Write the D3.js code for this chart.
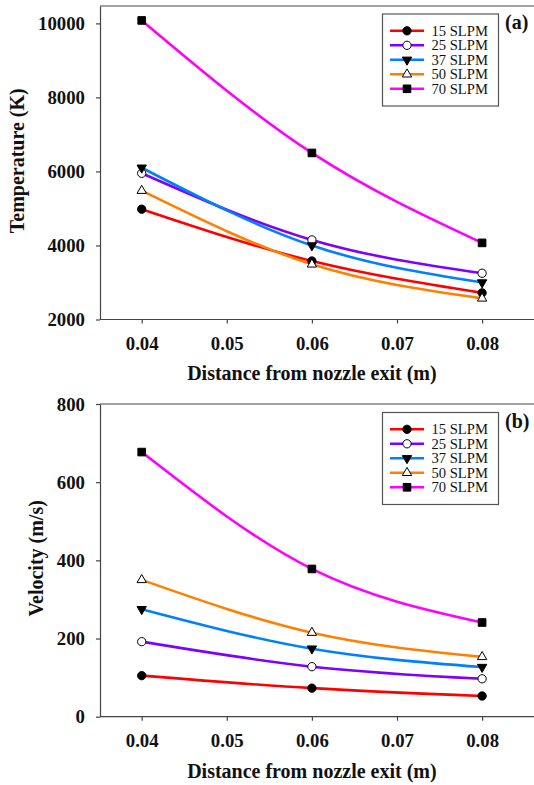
<!DOCTYPE html>
<html>
<head>
<meta charset="utf-8">
<script src="https://cdn.jsdelivr.net/npm/d3@7"></script>
<style>
  html, body { margin: 0; padding: 0; background: #fff; }
  svg { display: block; }
  svg text { font-family: 'Liberation Serif', 'Times New Roman', Times, 'DejaVu Serif', serif !important; fill: #111; }
</style>
</head>
<body>
<svg id="chart" width="534" height="785"></svg>
<script>
// Measurement positions along the jet (m)
const distances = [0.04, 0.06, 0.08];
const seriesNames = ["15 SLPM", "25 SLPM", "37 SLPM", "50 SLPM", "70 SLPM"];
const seriesColors = ["#ff0000", "#8000ff", "#0080ff", "#ff8000", "#ff00ff"];
const seriesSymbols = ["circle", "openCircle", "triangleDown", "openTriangle", "square"];

// Plasma temperature (K)
const temp15 = [4980, 3580, 2720];
const temp25 = [5950, 4150, 3250];
const temp37 = [6100, 4000, 3000];
const temp50 = [5480, 3490, 2570];
const temp70 = [10080, 6500, 4070];

// Plasma velocity (m/s)
const vel15 = [105, 73, 53];
const vel25 = [192, 128, 97];
const vel37 = [275, 174, 127];
const vel50 = [350, 215, 153];
const vel70 = [677, 378, 241];

const xTicks = [0.04, 0.05, 0.06, 0.07, 0.08];
const tempTicks = [2000, 4000, 6000, 8000, 10000];
const velTicks = [0, 200, 400, 600, 800];

const svg = d3.select("#chart");

const x = d3.scaleLinear().domain([0.0351, 0.09]).range([100, 567.2]);

function symbolPath(kind) {
  const gen = d3.symbol();
  if (kind === "circle" || kind === "openCircle") return gen.type(d3.symbolCircle).size(54)();
  if (kind === "square") return gen.type(d3.symbolSquare).size(58)();
  return gen.type(d3.symbolTriangle).size(38)();
}

function drawMarker(g, kind, cx, cy) {
  const open = kind === "openCircle" || kind === "openTriangle";
  g.append("path")
    .attr("d", symbolPath(kind))
    .attr("transform", `translate(${cx},${cy})` + (kind === "triangleDown" ? " rotate(180)" : ""))
    .attr("fill", open ? "#fff" : "#000")
    .attr("stroke", "#000")
    .attr("stroke-width", 1);
}

function drawPanel(opts) {
  const { values, y, ticks, yTitle, yTitleX, tag, legendTop, xTitleY } = opts;
  const g = svg.append("g");
  const [yBottom, yTop] = y.range();

  // frame top edge
  g.append("line")
    .attr("x1", 100).attr("x2", 534)
    .attr("y1", yTop).attr("y2", yTop)
    .attr("stroke", "#444").attr("stroke-width", 1.2);

  // axes
  const yAxis = d3.axisLeft(y).tickValues(ticks).tickSize(4).tickSizeOuter(0).tickPadding(11)
    .tickFormat(d3.format("d"));
  const ga = g.append("g").attr("transform", "translate(100,0)").call(yAxis);
  const xAxis = d3.axisBottom(x).tickValues(xTicks).tickSize(4).tickSizeOuter(0).tickPadding(13)
    .tickFormat(d3.format(".2f"));
  const gb = g.append("g").attr("transform", `translate(0,${yBottom})`).call(xAxis);
  [ga, gb].forEach(a => {
    a.attr("font-family", null);
    a.select(".domain").attr("stroke", "#444").attr("stroke-width", 1.2);
    a.selectAll(".tick line").attr("stroke", "#444").attr("stroke-width", 1.2);
    a.selectAll("text")
      .attr("font-size", 18.8)
      .attr("font-weight", "bold")
      .attr("fill", "#111");
  });
  gb.select(".domain").attr("d", `M100,0H534`);

  // axis titles
  g.append("text")
    .attr("x", x(0.06)).attr("y", xTitleY)
    .attr("text-anchor", "middle")
    .attr("font-size", 20).attr("font-weight", "bold")
    .text("Distance from nozzle exit (m)");
  g.append("text")
    .attr("transform", `translate(${yTitleX},${(yTop + yBottom) / 2 - 2}) rotate(-90)`)
    .attr("text-anchor", "middle")
    .attr("font-size", 20).attr("font-weight", "bold")
    .text(yTitle);

  // series curves then markers
  const line = d3.line().x(d => x(d[0])).y(d => y(d[1])).curve(d3.curveNatural);
  values.forEach((vals, i) => {
    const pts = distances.map((d, j) => [d, vals[j]]);
    g.append("path")
      .attr("d", line(pts))
      .attr("fill", "none")
      .attr("stroke", seriesColors[i])
      .attr("stroke-width", 2.6);
  });
  values.forEach((vals, i) => {
    distances.forEach((d, j) => drawMarker(g, seriesSymbols[i], x(d), y(vals[j])));
  });

  // legend
  const lg = g.append("g");
  lg.append("rect")
    .attr("x", 382.5).attr("y", legendTop)
    .attr("width", 116).attr("height", 92)
    .attr("fill", "#fff").attr("stroke", "#555").attr("stroke-width", 1.2);
  seriesNames.forEach((name, i) => {
    const cy = legendTop + 16.8 + i * 14.5;
    lg.append("line")
      .attr("x1", 390).attr("x2", 424).attr("y1", cy).attr("y2", cy)
      .attr("stroke", seriesColors[i]).attr("stroke-width", 2.6);
    drawMarker(lg, seriesSymbols[i], 407, cy);
    lg.append("text")
      .attr("x", 431.5).attr("y", cy + 5)
      .attr("font-size", 14.6)
      .text(name);
  });

  g.append("text")
    .attr("x", 505).attr("y", legendTop + 15)
    .attr("font-size", 20).attr("font-weight", "bold")
    .text(tag);
}

const yTemp = d3.scaleLinear().domain([2000, 10470]).range([319.5, 6]);
const yVel = d3.scaleLinear().domain([0, 800]).range([716.7, 404]);

drawPanel({
  values: [temp15, temp25, temp37, temp50, temp70],
  y: yTemp, ticks: tempTicks, yTitle: "Temperature (K)", yTitleX: 24,
  tag: "(a)", legendTop: 14, xTitleY: 380
});
drawPanel({
  values: [vel15, vel25, vel37, vel50, vel70],
  y: yVel, ticks: velTicks, yTitle: "Velocity (m/s)", yTitleX: 43,
  tag: "(b)", legendTop: 412.5, xTitleY: 778
});
</script>
</body>
</html>
